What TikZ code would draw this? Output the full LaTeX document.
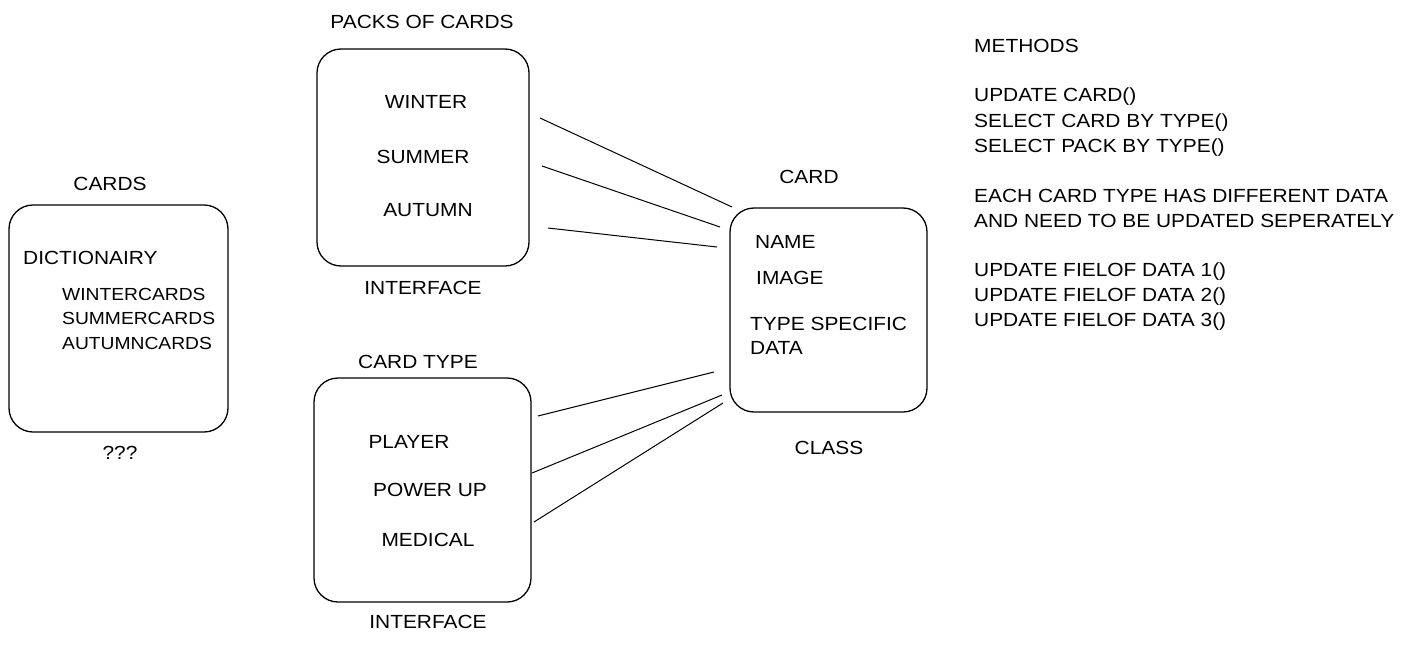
\documentclass[tikz,border=0pt]{standalone}
\usepackage{fontspec}
\setmainfont{Liberation Sans}[FakeStretch=1.1]
\begin{document}
\begin{tikzpicture}[x=1pt,y=-1pt,
  box/.style={draw=black,line width=1.3pt,rounded corners=24pt,inner sep=0pt},
  lbl/.style={inner sep=0pt,font=\fontsize{19}{23}\selectfont,text height=13.6pt,text depth=0pt},
  ltxt/.style={lbl,anchor=west},
  listtxt/.style={ltxt,font=\fontsize{17.5}{21}\selectfont,text height=12.5pt},
  conn/.style={draw=black,line width=1pt}]
\useasboundingbox (0,0) rectangle (1420,645);
% boxes
\node[box,minimum width=219pt,minimum height=227pt] (cards) at (118.5,318.5) {};
\node[box,minimum width=212pt,minimum height=217pt] (packs) at (423,157.5) {};
\node[box,minimum width=217pt,minimum height=224pt] (ctype) at (422.5,490) {};
\node[box,minimum width=197pt,minimum height=204pt] (card) at (828.5,310) {};
% cards texts
\node[lbl] (tcards) at (110,184) {CARDS};
\node[ltxt] (tdict) at (23,258) {DICTIONAIRY};
\node[listtxt] (tw) at (62,294) {WINTERCARDS};
\node[listtxt] (ts) at (62,318) {SUMMERCARDS};
\node[listtxt] (ta) at (62,343) {AUTUMNCARDS};
\node[lbl] (tq) at (120,453) {???};
% packs texts
\node[lbl] (tpacks) at (422,22) {PACKS OF CARDS};
\node[lbl] (pw) at (426,102) {WINTER};
\node[lbl] (ps) at (423,157) {SUMMER};
\node[lbl] (pa) at (428,210) {AUTUMN};
\node[lbl] (pi) at (423,288) {INTERFACE};
% card type texts
\node[lbl] (tctype) at (418,362) {CARD TYPE};
\node[lbl] (cp) at (409,442) {PLAYER};
\node[lbl] (cu) at (430,490) {POWER UP};
\node[lbl] (cm) at (428,540) {MEDICAL};
\node[lbl] (ci) at (428,622) {INTERFACE};
% card texts
\node[lbl] (tcard) at (809,177) {CARD};
\node[ltxt] (kn) at (755,242) {NAME};
\node[ltxt] (ki) at (756,278) {IMAGE};
\node[ltxt] (kt) at (750,324) {TYPE SPECIFIC};
\node[ltxt] (kd) at (750,348) {DATA};
\node[lbl] (kc) at (829,448) {CLASS};
% methods
\node[ltxt] (m0) at (974,46) {METHODS};
\node[ltxt] (m1) at (974,95) {UPDATE CARD()};
\node[ltxt] (m2) at (974,121) {SELECT CARD BY TYPE()};
\node[ltxt] (m3) at (974,146) {SELECT PACK BY TYPE()};
\node[ltxt] (m4) at (974,196) {EACH CARD TYPE HAS DIFFERENT DATA};
\node[ltxt] (m5) at (974,221) {AND NEED TO BE UPDATED SEPERATELY};
\node[ltxt] (m6) at (974,270) {UPDATE FIELOF DATA 1()};
\node[ltxt] (m7) at (974,295) {UPDATE FIELOF DATA 2()};
\node[ltxt] (m8) at (974,320) {UPDATE FIELOF DATA 3()};
% connector end points
\coordinate (a1) at (540,118); \coordinate (b1) at (732,207);
\coordinate (a2) at (542,166); \coordinate (b2) at (720,227);
\coordinate (a3) at (548,228); \coordinate (b3) at (717,247);
\coordinate (a4) at (538,416); \coordinate (b4) at (714,372);
\coordinate (a5) at (532,473); \coordinate (b5) at (722,395);
\coordinate (a6) at (534,522); \coordinate (b6) at (723,403);
\draw[conn] (a1) -- (b1);
\draw[conn] (a2) -- (b2);
\draw[conn] (a3) -- (b3);
\draw[conn] (a4) -- (b4);
\draw[conn] (a5) -- (b5);
\draw[conn] (a6) -- (b6);
\end{tikzpicture}
\end{document}
